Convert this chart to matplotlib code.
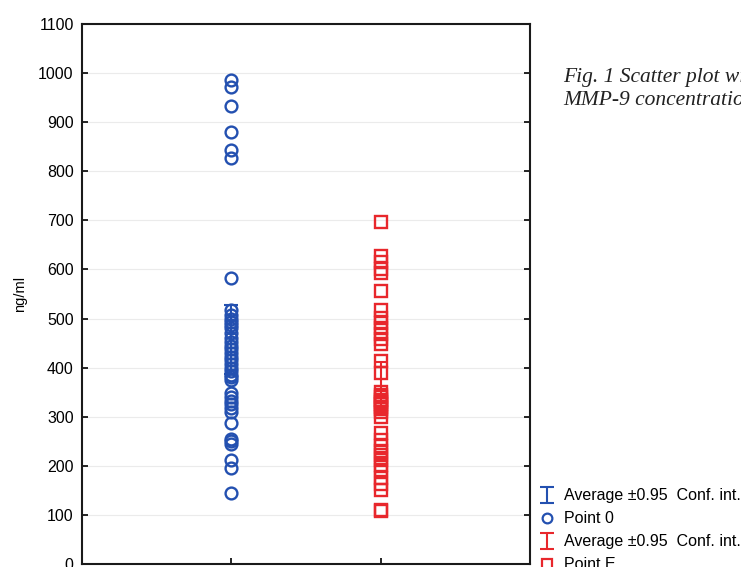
import matplotlib.pyplot as plt
from matplotlib.lines import Line2D

# concentrations (ng/ml) for each group
point0 = [986, 972, 932, 880, 843, 826, 583,
          517, 508, 500, 493, 487, 480, 470, 460, 452, 445, 437, 430, 422,
          415, 408, 400, 393, 386, 380, 375,
          348, 340, 333, 326, 318, 310, 287, 255, 250, 245, 212, 195, 145]
pointE = [697, 628, 615, 600, 592, 556, 517, 501, 490, 480, 468, 458, 448,
          413, 389, 350, 345, 340, 335, 330, 325, 320, 315, 310, 300,
          267, 253, 240, 230, 222, 212, 202, 191, 175, 163, 151, 110, 108]

# average and half-width of the 0.95 confidence interval
avg = [458, 360]
ci = [70, 51]

groups = ["Point 0", "Point E"]
yticks = [0, 100, 200, 300, 400, 500, 600, 700, 800, 900, 1000, 1100]

blue = "#2350b0"
red = "#e8272c"

plt.rcParams['font.family'] = ['Liberation Sans', 'DejaVu Sans']

fig = plt.figure(figsize=(7.41, 5.67), dpi=100)
ax = fig.add_axes([0.1107, 0.0053, 0.6045, 0.9524])

ax.yaxis.grid(True, color="#ebebeb", lw=0.8)
ax.set_axisbelow(True)

eb_blue = ax.errorbar([1], [avg[0]], yerr=[ci[0]], fmt="none", ecolor=blue,
                      elinewidth=1.5, capsize=5, capthick=1.5, zorder=2)
eb_red = ax.errorbar([2], [avg[1]], yerr=[ci[1]], fmt="none", ecolor=red,
                     elinewidth=1.5, capsize=5, capthick=1.5, zorder=2)

ax.plot([1] * len(point0), point0, ls="none", marker="o", ms=8.5,
        mfc="none", mec=blue, mew=1.7, zorder=3)
ax.plot([2] * len(pointE), pointE, ls="none", marker="s", ms=8.5,
        mfc="none", mec=red, mew=1.7, zorder=3)

ax.set_xlim(0, 3)
ax.set_ylim(0, 1100)
ax.set_yticks(yticks)
ax.set_xticks([1, 2])
ax.set_xticklabels([])
ax.tick_params(axis="both", direction="in", length=4, width=1.2,
               labelsize=11.5, right=True, pad=6)
ax.tick_params(axis="x", top=False)
for s in ax.spines.values():
    s.set_linewidth(1.5)
    s.set_color("#1a1a1a")
ax.set_ylabel("ng/ml", fontsize=10.5, labelpad=8)

# legend handles: small markers, I-shaped error bars
leg_blue = Line2D([0], [0], ls="none", marker="o", ms=7, mfc="none", mec=blue, mew=1.6)
leg_red = Line2D([0], [0], ls="none", marker="s", ms=7, mfc="none", mec=red, mew=1.6)
handles = [eb_blue, leg_blue, eb_red, leg_red]
labels = ["Average \u00b10.95  Conf. int.", groups[0],
          "Average \u00b10.95  Conf. int.", groups[1]]
fig.legend(handles, labels, loc="upper left", bbox_to_anchor=(0.729, 0.139),
           frameon=False, fontsize=11.5, handlelength=0.9, handletextpad=0.6,
           labelspacing=0.5, borderaxespad=0, borderpad=0)

fig.text(0.76, 0.855, "Fig. 1 Scatter plot with", fontsize=15.5,
         family="Liberation Serif", style="italic", color="#222222",
         va="baseline")
fig.text(0.76, 0.815, "MMP-9 concentration", fontsize=15.5,
         family="Liberation Serif", style="italic", color="#222222",
         va="baseline")

fig.savefig("out.png", dpi=100)
